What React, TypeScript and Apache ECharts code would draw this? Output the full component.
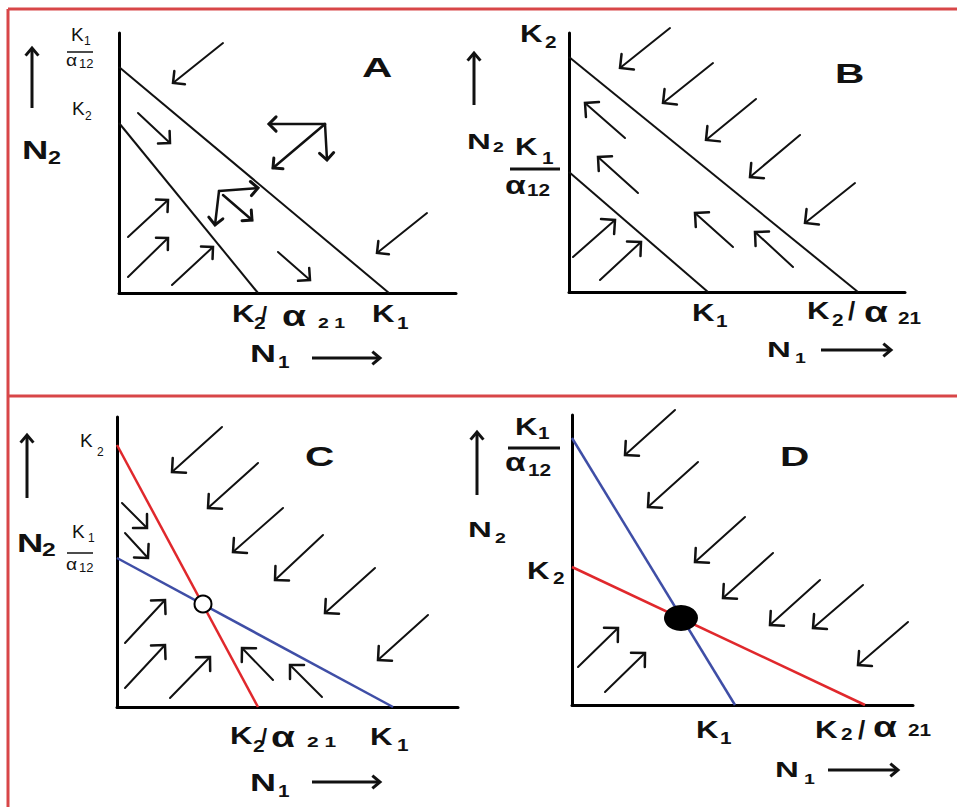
import React, { useEffect, useRef } from "react";
import * as echarts from "echarts";

// ---------- data (axis units, origin at each panel's axes corner) ----------
// Panel A : K1/α12 > K2 and K1 > K2/α21  (species 1 wins)
const isoA_outer = [[0, 226], [270, 0]];
const isoA_inner = [[0, 170], [139, 0]];
const arrowsA = [
  [104, 250, 54, 210], [308, 80, 258, 40],
  [19, 180, 51, 150], [159, 41, 191, 13],
  [9, 56, 49, 93], [9, 16, 49, 55], [53, 8, 94, 46],
];
const compoundA = [
  [206, 169, 150, 169], [206, 169, 208, 133], [206, 169, 154, 125],
  [100, 102, 139, 105], [100, 102, 96, 68], [104, 98, 133, 73],
];
// Panel B : species 2 wins
const isoB_outer = [[0, 235], [289, 0]];
const isoB_inner = [[0, 120], [139, 0]];
const arrowsB = [
  [101, 264, 51, 224], [144, 229, 94, 189], [187, 193, 137, 152],
  [231, 157, 181, 115], [286, 109, 236, 69],
  [56, 154, 16, 189], [69, 99, 29, 135], [164, 45, 126, 79], [224, 25, 186, 60],
  [4, 35, 46, 72], [31, 12, 72, 50],
];
// Panel C : unstable equilibrium
const isoC_red = [[0, 262], [141, 0]];
const isoC_blue = [[0, 149], [276, 0]];
const eqC = [[86, 103]];
const arrowsC = [
  [105, 280, 55, 235], [141, 244, 91, 199], [166, 199, 116, 155],
  [206, 172, 158, 127], [258, 139, 208, 94], [311, 92, 261, 47],
  [5, 204, 30, 179], [8, 174, 31, 149],
  [8, 64, 48, 107], [8, 19, 48, 62], [53, 9, 93, 50],
  [156, 27, 125, 59], [205, 10, 173, 42],
];
// Panel D : stable equilibrium
const isoD_blue = [[0, 267], [163, 0]];
const isoD_red = [[0, 138], [293, 0]];
const eqD = [[109, 87]];
const arrowsD = [
  [103, 295, 53, 250], [126, 243, 76, 198], [173, 188, 123, 143],
  [201, 152, 151, 107], [248, 125, 198, 80], [291, 120, 241, 77],
  [336, 83, 286, 40],
  [6, 38, 46, 77], [33, 13, 73, 52],
];

// ---------- layout ----------
const panels = [
  { left: 119, top: 33, width: 337, height: 260 },
  { left: 569, top: 33, width: 336, height: 259 },
  { left: 117, top: 417, width: 341, height: 290 },
  { left: 572, top: 415, width: 341, height: 290 },
];

const FONT = '"Liberation Sans", Arial, Helvetica, sans-serif';
const INK = "#111";
const RED = "#e0282c";
const BLUE = "#3f4ea6";
const FRAME = "#d84648";
const SX = 1.3;
const NX = 1.5;

function txt(x: number, y: number, s: string, size: number, bold = true, sx = SX) {
  return {
    type: "text",
    x,
    y,
    scaleX: sx,
    z: 10,
    style: {
      text: s,
      fontSize: size,
      fontWeight: bold ? "bold" : "normal",
      fontFamily: FONT,
      fill: INK,
      textAlign: "left",
      textVerticalAlign: "middle",
      align: "left",
      verticalAlign: "middle",
    },
  };
}
function seg(x1: number, y1: number, x2: number, y2: number, w = 3, color = INK) {
  return {
    type: "line",
    z: 10,
    shape: { x1, y1, x2, y2 },
    style: { stroke: color, lineWidth: w, lineCap: "butt" },
  };
}
function headPts(x1: number, y1: number, x2: number, y2: number, head: number, a: number) {
  const ang = Math.atan2(y2 - y1, x2 - x1);
  return [
    [x2 - head * Math.cos(ang - a), y2 - head * Math.sin(ang - a)],
    [x2, y2],
    [x2 - head * Math.cos(ang + a), y2 - head * Math.sin(ang + a)],
  ];
}
function arrowG(x1: number, y1: number, x2: number, y2: number, head = 10, w = 3) {
  return [
    seg(x1, y1, x2, y2, w),
    {
      type: "polyline",
      z: 10,
      shape: { points: headPts(x1, y1, x2, y2, head, 0.7) },
      style: { stroke: INK, lineWidth: w, fill: "none", lineJoin: "miter" },
    },
  ];
}

function arrowRenderer(head: number, width: number) {
  return (params: any, api: any) => {
    const p1 = api.coord([api.value(0), api.value(1)]);
    const p2 = api.coord([api.value(2), api.value(3)]);
    return {
      type: "group",
      children: [
        {
          type: "line",
          shape: { x1: p1[0], y1: p1[1], x2: p2[0], y2: p2[1] },
          style: { stroke: INK, lineWidth: width, lineCap: "round" },
        },
        {
          type: "polyline",
          shape: { points: headPts(p1[0], p1[1], p2[0], p2[1], head, Math.PI / 4) },
          style: { stroke: INK, lineWidth: width + 0.5, fill: "none", lineJoin: "miter", lineCap: "round" },
        },
      ],
    };
  };
}

function arrowSeries(idx: number, data: number[][], head: number, width: number) {
  return {
    type: "custom",
    xAxisIndex: idx,
    yAxisIndex: idx,
    coordinateSystem: "cartesian2d",
    dimensions: ["x1", "y1", "x2", "y2"],
    encode: { x: [0, 2], y: [1, 3] },
    data,
    clip: false,
    silent: true,
    z: 4,
    renderItem: arrowRenderer(head, width),
  };
}
function isoSeries(idx: number, data: number[][], color: string, width = 2) {
  return {
    type: "line",
    xAxisIndex: idx,
    yAxisIndex: idx,
    data,
    symbol: "none",
    silent: true,
    z: 3,
    lineStyle: { color, width },
  };
}

function buildGraphic() {
  const g: any[] = [];
  // frame
  g.push(seg(8, 9, 957, 9, 3, FRAME));
  g.push(seg(8, 9, 8, 807, 3, FRAME));
  g.push(seg(8, 396, 957, 396, 3, FRAME));

  // ---- Panel A ----
  g.push(...arrowG(32, 108, 32, 48, 10, 3));
  g.push(txt(22, 150, "N", 26, true, 1.4), txt(48, 158, "2", 18));
  g.push(txt(71, 34, "K", 19, false, 1), txt(84, 41, "1", 12, false, 1));
  g.push(seg(67, 52, 93, 52, 1.5));
  g.push(txt(66, 61, "α", 16, false, 1.2), txt(79, 63, "12", 13, false, 1));
  g.push(txt(72, 108, "K", 19, false, 1), txt(85, 116, "2", 12, false, 1));
  g.push(txt(362, 68, "A", 28, true, 1.5));
  g.push(txt(232, 314, "K", 24), txt(254, 323, "2", 16), txt(261, 314, "/", 22, true, 1));
  g.push(txt(282, 316, "α", 30), txt(318, 323, "2 1", 15, true, 1.3));
  g.push(txt(372, 314, "K", 24), txt(397, 323, "1", 16));
  g.push(txt(250, 353, "N", 24, true, NX), txt(278, 362, "1", 16));
  g.push(...arrowG(312, 358, 380, 358, 10, 3));

  // ---- Panel B ----
  g.push(...arrowG(474, 105, 474, 53, 10, 3));
  g.push(txt(467, 142, "N", 22, true, NX), txt(493, 147, "2", 15));
  g.push(txt(520, 34, "K", 24), txt(545, 42, "2", 16));
  g.push(txt(515, 147, "K", 24), txt(542, 158, "1", 16));
  g.push(seg(510, 169, 560, 169, 3));
  g.push(txt(505, 185, "α", 26), txt(527, 190, "12", 16));
  g.push(txt(835, 73, "B", 28, true, 1.45));
  g.push(txt(692, 313, "K", 24), txt(716, 321, "1", 16));
  g.push(txt(807, 311, "K", 24), txt(832, 320, "2", 16), txt(848, 311, "/", 26, true, 1));
  g.push(txt(864, 312, "α", 30), txt(898, 318, "21", 16));
  g.push(txt(767, 350, "N", 22, true, NX), txt(795, 358, "1", 15));
  g.push(...arrowG(821, 350, 891, 350, 10, 3));

  // ---- Panel C ----
  g.push(...arrowG(27, 498, 27, 435, 10, 3));
  g.push(txt(17, 543, "N", 26, true, 1.4), txt(42, 550, "2", 19));
  g.push(txt(80, 440, "K", 19, false, 1), txt(97, 452, "2", 12, false, 1));
  g.push(txt(72, 531, "K", 19, false, 1), txt(88, 538, "1", 12, false, 1));
  g.push(seg(67, 553, 93, 553, 1.5));
  g.push(txt(66, 565, "α", 16, false, 1.2), txt(79, 567, "12", 13, false, 1));
  g.push(txt(305, 456, "C", 28, true, 1.45));
  g.push(txt(230, 736, "K", 24), txt(253, 746, "2", 16), txt(261, 736, "/", 22, true, 1));
  g.push(txt(271, 737, "α", 30), txt(307, 742, "2 1", 15, true, 1.4));
  g.push(txt(370, 737, "K", 24), txt(397, 745, "1", 16));
  g.push(txt(250, 782, "N", 24, true, NX), txt(278, 791, "1", 16));
  g.push(...arrowG(312, 782, 380, 782, 10, 3));

  // ---- Panel D ----
  g.push(...arrowG(477, 495, 477, 432, 10, 3));
  g.push(txt(468, 530, "N", 22, true, NX), txt(495, 538, "2", 15));
  g.push(txt(515, 427, "K", 24), txt(538, 433, "1", 16));
  g.push(seg(508, 448, 560, 448, 3));
  g.push(txt(505, 462, "α", 26), txt(528, 470, "12", 16));
  g.push(txt(527, 571, "K", 24), txt(553, 578, "2", 16));
  g.push(txt(780, 456, "D", 28, true, 1.45));
  g.push(txt(696, 730, "K", 24), txt(720, 738, "1", 16));
  g.push(txt(815, 730, "K", 24), txt(841, 734, "2", 16), txt(858, 730, "/", 26, true, 1));
  g.push(txt(873, 727, "α", 30), txt(908, 730, "21", 16));
  g.push(txt(775, 770, "N", 22, true, NX), txt(804, 779, "1", 15));
  g.push(...arrowG(828, 770, 898, 770, 10, 3));
  return g;
}

export default function App() {
  const ref = useRef<HTMLDivElement>(null);
  useEffect(() => {
    if (!ref.current) return;
    const chart = echarts.init(ref.current, undefined, { renderer: "svg" });
    const axisCommon = {
      type: "value",
      axisTick: { show: false },
      axisLabel: { show: false },
      splitLine: { show: false },
    };
    chart.setOption({
      animation: false,
      backgroundColor: "#ffffff",
      grid: panels.map((p) => ({ ...p, containLabel: false })),
      xAxis: panels.map((p, i) => ({
        ...axisCommon,
        gridIndex: i,
        min: 0,
        max: p.width,
        position: "bottom",
        axisLine: { show: true, onZero: false, lineStyle: { color: "#000", width: 3 } },
      })),
      yAxis: panels.map((p, i) => ({
        ...axisCommon,
        gridIndex: i,
        min: 0,
        max: p.height,
        position: "left",
        axisLine: { show: true, onZero: false, lineStyle: { color: "#000", width: 3 } },
      })),
      series: [
        isoSeries(0, isoA_outer, INK),
        isoSeries(0, isoA_inner, INK),
        arrowSeries(0, arrowsA, 12, 2),
        arrowSeries(0, compoundA, 10, 2.5),
        isoSeries(1, isoB_outer, INK),
        isoSeries(1, isoB_inner, INK),
        arrowSeries(1, arrowsB, 14, 2),
        isoSeries(2, isoC_red, RED, 2.5),
        isoSeries(2, isoC_blue, BLUE, 2.5),
        arrowSeries(2, arrowsC, 14, 2),
        {
          type: "scatter",
          xAxisIndex: 2,
          yAxisIndex: 2,
          data: eqC,
          symbol: "circle",
          symbolSize: 17,
          silent: true,
          z: 6,
          itemStyle: { color: "#ffffff", borderColor: "#000", borderWidth: 2, opacity: 1 },
        },
        isoSeries(3, isoD_blue, BLUE, 2.5),
        isoSeries(3, isoD_red, RED, 2.5),
        arrowSeries(3, arrowsD, 14, 2),
        {
          type: "scatter",
          xAxisIndex: 3,
          yAxisIndex: 3,
          data: eqD,
          symbol: "circle",
          symbolSize: [34, 26],
          silent: true,
          z: 6,
          itemStyle: { color: "#000", opacity: 1 },
        },
      ],
      graphic: buildGraphic(),
    });
    return () => chart.dispose();
  }, []);
  return (
    <div
      ref={ref}
      style={{ position: "absolute", left: 0, top: 0, width: 957, height: 807, background: "#fff" }}
    />
  );
}
